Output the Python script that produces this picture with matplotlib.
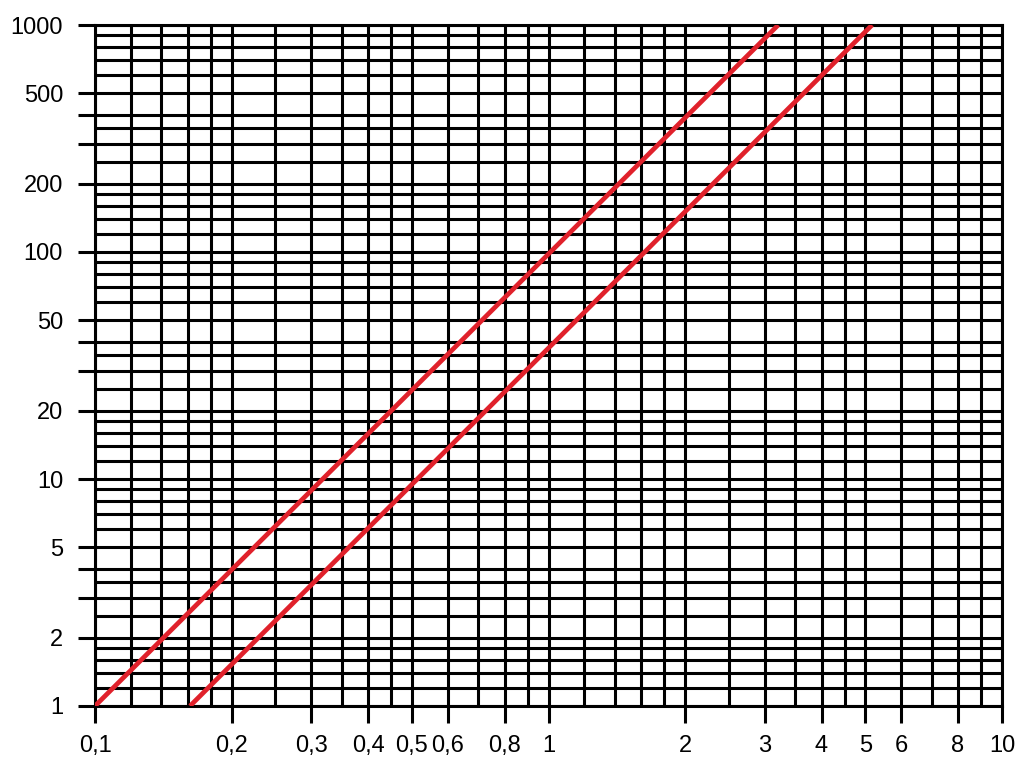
import matplotlib
matplotlib.use("Agg")
import matplotlib.pyplot as plt
from matplotlib.ticker import FixedLocator, FixedFormatter, NullFormatter

# grid lines of the log paper
x_grid = [0.1, 0.12, 0.14, 0.16, 0.18, 0.2, 0.25, 0.3, 0.35, 0.4, 0.45, 0.5, 0.6, 0.7, 0.8, 0.9,
          1, 1.2, 1.4, 1.6, 1.8, 2, 2.5, 3, 3.5, 4, 4.5, 5, 6, 7, 8, 9, 10]
y_grid = [1, 1.2, 1.4, 1.6, 1.8, 2, 2.5, 3, 3.5, 4, 5, 6, 7, 8, 9,
          10, 12, 14, 16, 18, 20, 25, 30, 35, 40, 50, 60, 70, 80, 90,
          100, 120, 140, 160, 180, 200, 250, 300, 350, 400, 500, 600, 700, 800, 900, 1000]

x_ticks = [0.1, 0.2, 0.3, 0.4, 0.5, 0.6, 0.8, 1, 2, 3, 4, 5, 6, 8, 10]
x_labels = ["0,1", "0,2", "0,3", "0,4", "0,5", "0,6", "0,8", "1", "2", "3", "4", "5", "6", "8", "10"]
y_ticks = [1, 2, 3, 4, 5, 10, 20, 30, 40, 50, 100, 200, 300, 400, 500, 1000]
y_labels = ["1", "2", "", "", "5", "10", "20", "", "", "50", "100", "200", "", "", "500", "1000"]

# the two red lines (end points)
line1_x = [0.1, 3.21]
line1_y = [1, 1000]
line2_x = [0.162, 5.17]
line2_y = [1, 1000]

plt.rcParams['font.family'] = ['Liberation Sans', 'DejaVu Sans']
plt.rcParams['xtick.labelsize'] = 17
plt.rcParams['ytick.labelsize'] = 17

fig = plt.figure(figsize=(10.24, 7.61), dpi=100)
ax = fig.add_axes([95 / 1024, 1 - 706 / 761, 907 / 1024, 681 / 761])
ax.set_xscale('log')
ax.set_yscale('log')
ax.set_xlim(0.1, 10)
ax.set_ylim(1, 1000)

lw = 2.2
for xv in x_grid:
    ax.axvline(xv, color='black', lw=lw, zorder=1)
for yv in y_grid:
    ax.axhline(yv, color='black', lw=lw, zorder=1)

ax.plot(line1_x, line1_y, color='#e0212b', lw=3.4, zorder=3, solid_capstyle='butt')
ax.plot(line2_x, line2_y, color='#e0212b', lw=3.4, zorder=3, solid_capstyle='butt')

ax.xaxis.set_major_locator(FixedLocator(x_ticks))
ax.xaxis.set_major_formatter(FixedFormatter(x_labels))
ax.xaxis.set_minor_locator(FixedLocator([]))
ax.xaxis.set_minor_formatter(NullFormatter())
ax.yaxis.set_major_locator(FixedLocator(y_ticks))
ax.yaxis.set_major_formatter(FixedFormatter(y_labels))
ax.yaxis.set_minor_locator(FixedLocator([]))
ax.yaxis.set_minor_formatter(NullFormatter())

ax.tick_params(axis='both', which='major', length=12, width=lw, color='black',
               labelsize=17, direction='out')
ax.tick_params(axis='x', pad=9)
ax.tick_params(axis='y', pad=11)

for s in ax.spines.values():
    s.set_linewidth(lw)
    s.set_color('black')

fig.savefig('out.png', dpi=100)
